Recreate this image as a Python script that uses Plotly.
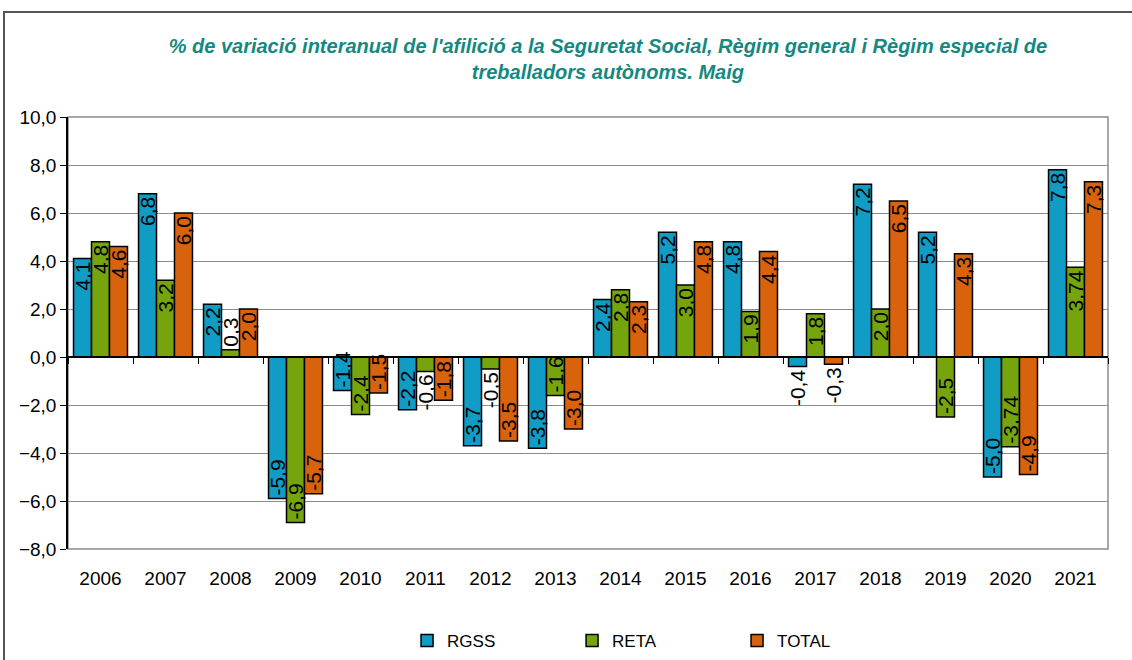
import plotly.graph_objects as go

years = ["2006", "2007", "2008", "2009", "2010", "2011", "2012", "2013",
         "2014", "2015", "2016", "2017", "2018", "2019", "2020", "2021"]
rgss = [4.1, 6.8, 2.2, -5.9, -1.4, -2.2, -3.7, -3.8, 2.4, 5.2, 4.8, -0.4, 7.2, 5.2, -5.0, 7.8]
reta = [4.8, 3.2, 0.3, -6.9, -2.4, -0.6, -0.5, -1.6, 2.8, 3.0, 1.9, 1.8, 2.0, -2.5, -3.74, 3.74]
total = [4.6, 6.0, 2.0, -5.7, -1.5, -1.8, -3.5, -3.0, 2.3, 4.8, 4.4, -0.3, 6.5, 4.3, -4.9, 7.3]

def fmt(v):
    s = f"{v:.2f}" if abs(v * 10 - round(v * 10)) > 1e-9 else f"{v:.1f}"
    return s.replace(".", ",")

series = [("RGSS", rgss, "#109cc4"), ("RETA", reta, "#76a40c"), ("TOTAL", total, "#d9620c")]

FONT = "Liberation Sans, Arial"

fig = go.Figure()
for name, vals, col in series:
    fig.add_trace(go.Bar(
        x=years, y=vals, name=name,
        marker=dict(color=col, line=dict(color="black", width=1.5)),
        text=[fmt(v) for v in vals],
        textposition=["inside" if abs(v) >= 1 else "outside" for v in vals],
        insidetextanchor="end", textangle=-90,
        textfont=dict(family=FONT, size=21, color="black"),
        cliponaxis=False,
    ))

# invisible trace for the zero-line tick axis
fig.add_trace(go.Scatter(x=years, y=[0] * len(years), xaxis="x2", mode="markers",
                         marker=dict(opacity=0), showlegend=False, hoverinfo="skip"))

fig.update_layout(
    width=1132, height=660,
    paper_bgcolor="white", plot_bgcolor="white",
    margin=dict(l=68, r=24, t=117, b=111, autoexpand=False),
    barmode="group", bargap=0.17, bargroupgap=0,
    separators=",.",
    uniformtext=dict(minsize=21, mode="show"),
    font=dict(family=FONT, size=19, color="black"),
    title=dict(
        text="<b><i>% de variació interanual de l'afilició a la Seguretat Social, Règim general i Règim especial de<br>treballadors autònoms. Maig</i></b>",
        x=0.537, xanchor="center", y=0.919, yanchor="middle",
        font=dict(family=FONT, size=20, color="#13897f"),
    ),
    legend=dict(orientation="h", x=0.564, xanchor="center", y=-0.213, yanchor="middle",
                entrywidth=120, font=dict(size=17), itemwidth=30, traceorder="normal"),
    xaxis=dict(range=[-0.5, 15.5], showgrid=False, showline=False, ticks="",
               tickfont=dict(size=19), ticklabelstandoff=16),
    xaxis2=dict(overlaying="x", matches="x", anchor="free", position=8 / 18,
                showline=True, linecolor="black", linewidth=1.5,
                ticks="outside", tickson="boundaries", ticklen=6, tickcolor="black",
                showticklabels=False, showgrid=False),
    yaxis=dict(range=[-8, 10], dtick=2, tickformat=".1f",
               showgrid=True, gridcolor="#8c8c8c", gridwidth=1,
               zeroline=False,
               showline=True, linecolor="black", linewidth=1.5,
               ticks="outside", ticklen=6, tickcolor="black",
               tickfont=dict(size=19)),
)

# plot area frame (gray)
fig.add_shape(type="rect", xref="paper", yref="paper", x0=0, x1=1, y0=0, y1=1,
              line=dict(color="#8c8c8c", width=1.5), layer="below")
# outer chart frame
fig.add_shape(type="rect", xref="paper", yref="paper",
              x0=(4 - 68) / 1040, x1=(1140 - 68) / 1040,
              y0=(549 - 670) / 432, y1=(549 - 12) / 432,
              line=dict(color="#555555", width=2))

fig.write_html("out.html", config={"displayModeBar": False},
               post_script="document.body.style.margin='0';")
